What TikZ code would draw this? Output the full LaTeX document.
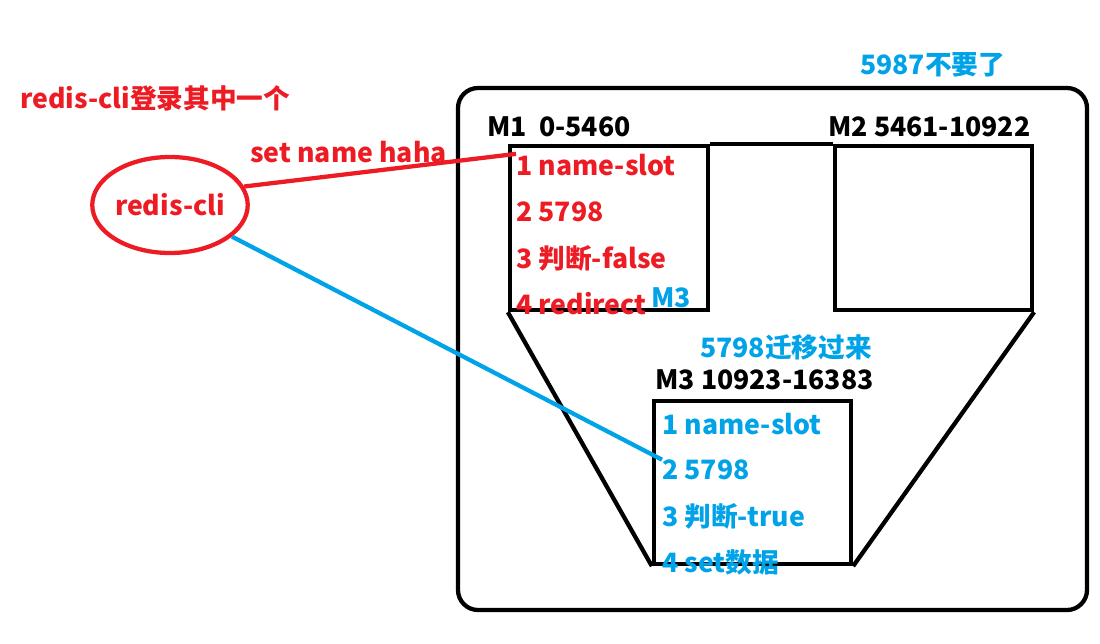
\documentclass[tikz,border=0pt]{standalone}
\usepackage{fontspec}
\setmainfont{Noto Sans CJK SC}
\usetikzlibrary{positioning, shapes.geometric}
\definecolor{cred}{HTML}{ED1C24}
\definecolor{cblue}{HTML}{00A2E8}

\begin{document}
\begin{tikzpicture}[x=0.75pt, y=-0.75pt,
    lbl/.style={anchor=west, inner sep=0pt, font=\bfseries\fontsize{20}{22}\selectfont},
    box/.style={rectangle, draw, line width=3.2pt, inner sep=0pt},
    wire/.style={line width=3.2pt}]
    \useasboundingbox (0,0) rectangle (1100,643);

    % Cluster frame
    \node[box, rounded corners=15pt, minimum width=471.75pt, minimum height=391.5pt] (cluster) at (772.5,349) {};

    % Masters
    \node[box, minimum width=148.5pt, minimum height=123pt] (m1) at (609,228) {};
    \node[box, minimum width=147.75pt, minimum height=123pt] (m2) at (933.5,228) {};
    \node[box, minimum width=147.75pt, minimum height=122.25pt] (m3) at (752.5,482.5) {};
    \draw[wire] (m1.north east) -- (m2.north west);
    \draw[wire] (m1.south west) -- (m3.south west);
    \draw[wire] (m2.south east) -- (m3.south east);

    % Titles
    \node[lbl] (m1title) at (487,127) {M1~~0-5460};
    \node[lbl] (m2title) at (828,127) {M2 5461-10922};
    \node[lbl] (m3title) at (655,380) {M3 10923-16383};
    \node[lbl, cblue] (drop) at (860,65) {5987不要了};
    \node[lbl, cblue] (move) at (700,347) {5798迁移过来};

    % Client
    \node[lbl, cred] (login) at (20,98) {redis-cli登录其中一个};
    \node[ellipse, draw=cred, line width=3.2pt, inner sep=0pt, minimum width=115.5pt, minimum height=72pt,
          text=cred, font=\bfseries\fontsize{20}{22}\selectfont] (cli) at (170,205) {redis-cli};
    \node[lbl, cred] (cmd) at (250,152) {set name haha};

    % Steps on M1
    \node[lbl, cred] (m1a) at (516,165) {1 name-slot};
    \node[lbl, cred] (m1b) at (516,212) {2 5798};
    \node[lbl, cred] (m1c) at (516,258) {3 判断-false};
    \node[lbl, cred] (m1d) at (516,304) {4 redirect};
    \node[lbl, cblue] (m1e) at (651,298) {M3};

    % Steps on M3
    \node[lbl, cblue] (m3a) at (662,424) {1 name-slot};
    \node[lbl, cblue] (m3b) at (662,470) {2 5798};
    \node[lbl, cblue] (m3c) at (662,516) {3 判断-true};
    \node[lbl, cblue] (m3d) at (662,562) {4 set数据};

    % Requests
    \draw[wire, cred] (cli.14) -- (m1a.north west);
    \draw[wire, cblue] (cli.-27) -- (m3b.north west);
\end{tikzpicture}
\end{document}
